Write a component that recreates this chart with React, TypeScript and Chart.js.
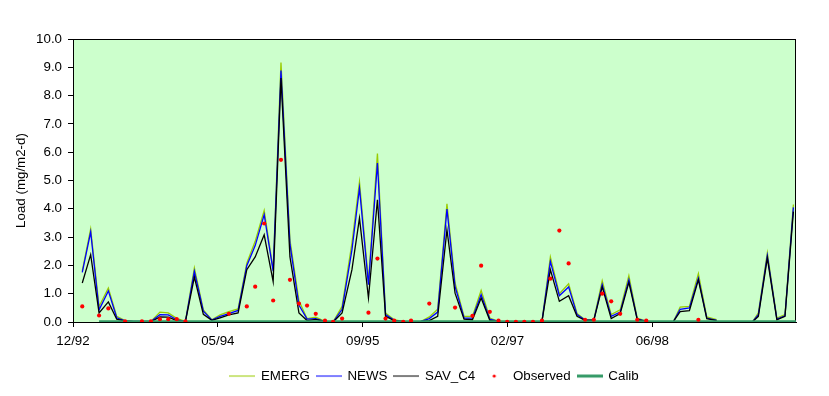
import React, { useEffect, useRef } from 'react';
import { Chart, registerables } from 'chart.js';

Chart.register(...registerables);

// ---- data ----
const BASE_DATE = '1992-12-31';
const AXIS_END_DATE = '1999-11-01';
const tickStepDays = 500;
const tickLabels = ['12/92', '05/94', '09/95', '02/97', '06/98'];

const sampleDates = [
  '1993-02-01', '1993-03-02', '1993-03-31', '1993-05-02', '1993-05-31', '1993-06-29', '1993-07-28', '1993-08-26', '1993-09-26', '1993-10-27',
  '1993-11-25', '1993-12-24', '1994-01-23', '1994-02-23', '1994-03-26', '1994-04-24', '1994-05-23', '1994-06-22', '1994-07-24', '1994-08-23',
  '1994-09-21', '1994-10-22', '1994-11-22', '1994-12-19', '1995-01-19', '1995-02-19', '1995-03-19', '1995-04-18', '1995-05-20', '1995-06-17',
  '1995-07-18', '1995-08-21', '1995-09-16', '1995-10-17', '1995-11-17', '1995-12-15', '1996-01-14', '1996-02-14', '1996-03-12', '1996-04-13',
  '1996-05-14', '1996-06-12', '1996-07-14', '1996-08-11', '1996-09-11', '1996-10-10', '1996-11-09', '1996-12-09', '1997-01-08', '1997-02-07',
  '1997-03-09', '1997-04-07', '1997-05-07', '1997-06-07', '1997-07-06', '1997-08-06', '1997-09-07', '1997-10-06', '1997-11-03', '1997-12-03',
  '1998-01-01', '1998-02-01', '1998-03-04', '1998-04-03', '1998-05-02', '1998-06-02', '1998-07-03', '1998-08-03', '1998-09-04', '1998-09-27',
  '1998-10-29', '1998-11-29', '1998-12-28', '1999-01-31', '1999-02-28', '1999-03-30', '1999-04-30', '1999-06-05', '1999-06-24', '1999-07-25',
  '1999-08-27', '1999-09-24', '1999-10-23', '1999-11-01',
];

const emerg = [
  1.81, 3.29, 0.55, 1.20, 0.20, 0.05, 0.02, 0.02, 0.02, 0.35,
  0.32, 0.13, 0.02, 1.91, 0.43, 0.08, 0.25, 0.37, 0.46, 2.08,
  2.85, 3.94, 1.85, 9.17, 2.90, 0.75, 0.12, 0.17, 0.02, 0.01,
  0.55, 2.79, 4.95, 1.44, 5.95, 0.32, 0.08, 0.01, 0.01, 0.01,
  0.18, 0.45, 4.18, 1.38, 0.20, 0.20, 1.12, 0.14, 0.02, 0.01,
  0.01, 0.01, 0.01, 0.02, 2.30, 1.00, 1.35, 0.30, 0.08, 0.08,
  1.46, 0.26, 0.43, 1.64, 0.14, 0.03, null, null, 0.02, 0.53,
  0.55, 1.71, 0.18, 0.08, null, null, null, 0.02, 0.32, 2.44,
  0.14, 0.26, 4.15, null,
];

const news = [
  1.75, 3.18, 0.43, 1.10, 0.15, 0.04, 0.02, 0.02, 0.02, 0.26,
  0.25, 0.08, 0.01, 1.79, 0.38, 0.07, 0.20, 0.30, 0.41, 1.99,
  2.70, 3.79, 1.80, 8.89, 2.75, 0.60, 0.10, 0.12, 0.01, 0.00,
  0.45, 2.55, 4.73, 1.32, 5.62, 0.26, 0.06, 0.01, 0.01, 0.01,
  0.12, 0.35, 3.99, 1.26, 0.14, 0.14, 0.97, 0.10, 0.02, 0.01,
  0.01, 0.01, 0.01, 0.02, 2.14, 0.93, 1.24, 0.26, 0.07, 0.07,
  1.32, 0.20, 0.35, 1.49, 0.10, 0.03, null, null, 0.02, 0.45,
  0.50, 1.55, 0.14, 0.06, null, null, null, 0.02, 0.26, 2.35,
  0.10, 0.22, 4.05, null,
];

const savC4 = [
  1.38, 2.38, 0.32, 0.71, 0.10, 0.03, 0.01, 0.01, 0.01, 0.18,
  0.17, 0.05, 0.01, 1.59, 0.27, 0.06, 0.15, 0.25, 0.32, 1.85,
  2.30, 3.08, 1.43, 8.62, 2.30, 0.32, 0.05, 0.09, 0.01, 0.00,
  0.32, 1.85, 3.67, 0.85, 4.32, 0.20, 0.05, 0.01, 0.01, 0.01,
  0.05, 0.20, 3.26, 1.02, 0.10, 0.08, 0.85, 0.06, 0.02, 0.01,
  0.01, 0.01, 0.01, 0.02, 1.85, 0.73, 0.93, 0.20, 0.06, 0.06,
  1.24, 0.12, 0.30, 1.40, 0.08, 0.02, null, null, 0.02, 0.37,
  0.40, 1.49, 0.12, 0.05, null, null, null, 0.02, 0.20, 2.26,
  0.08, 0.20, 3.90, null,
];

const observed = [
  0.55, null, 0.23, 0.48, null, 0.02, null, 0.02, 0.02, 0.10,
  0.10, 0.10, 0.02, null, null, null, null, 0.29, null, 0.55,
  1.25, 3.48, 0.76, 5.73, 1.49, 0.65, 0.58, 0.29, 0.05, 0.01,
  0.12, null, null, 0.33, 2.24, 0.12, 0.05, 0.01, 0.05, null,
  0.65, null, null, 0.51, null, 0.22, 1.99, 0.36, 0.05, 0.01,
  0.01, 0.01, 0.01, 0.05, 1.53, 3.23, 2.07, null, 0.08, 0.08,
  1.00, 0.73, 0.29, null, 0.08, 0.05, null, null, null, null,
  null, 0.08, null, null, null, null, null, null, null, null,
  null, null, null, null,
];

const calib = [
  null, null, 0, 0, 0, 0, 0, 0, 0, 0,
  0, 0, 0, 0, 0, 0, 0, 0, 0, 0,
  0, 0, 0, 0, 0, 0, 0, 0, 0, 0,
  0, 0, 0, 0, 0, 0, 0, 0, 0, 0,
  0, 0, 0, 0, 0, 0, 0, 0, 0, 0,
  0, 0, 0, 0, 0, 0, 0, 0, 0, 0,
  0, 0, 0, 0, 0, 0, 0, 0, 0, 0,
  0, 0, 0, 0, 0, 0, 0, 0, 0, 0,
  0, 0, 0, 0,
];

const seriesNames = ['EMERG', 'NEWS', 'SAV_C4', 'Observed', 'Calib'];
const seriesColors = ['#99CC00', '#0000FF', '#000000', '#FF0000', '#339966'];

// ---- helpers ----
const dayMs = 86400000;
const toUTC = (s: string) => {
  const [y, m, d] = s.split('-').map(Number);
  return Date.UTC(y, m - 1, d);
};
const dayOf = (s: string) => Math.round((toUTC(s) - toUTC(BASE_DATE)) / dayMs);
const pts = (vals: (number | null)[]) => sampleDates.map((d, i) => ({ x: dayOf(d), y: vals[i] }));

function lineSymbol(color: string, thick: number): HTMLCanvasElement {
  const c = document.createElement('canvas');
  c.width = 26;
  c.height = 6;
  const g = c.getContext('2d')!;
  g.fillStyle = color;
  g.fillRect(0, 3 - thick / 2, 26, thick);
  return c;
}
function dotSymbol(color: string): HTMLCanvasElement {
  const c = document.createElement('canvas');
  c.width = 6;
  c.height = 6;
  const g = c.getContext('2d')!;
  g.fillStyle = color;
  g.beginPath();
  g.arc(3, 3, 1.6, 0, Math.PI * 2);
  g.fill();
  return c;
}

const FONT = 'Arial, "Liberation Sans", sans-serif';

export default function App() {
  const ref = useRef<HTMLCanvasElement | null>(null);

  useEffect(() => {
    if (!ref.current) return;
    Chart.defaults.font.family = FONT;
    Chart.defaults.font.size = 13.33;
    Chart.defaults.color = '#000000';

    const symbols = [
      lineSymbol(seriesColors[0], 1),
      lineSymbol(seriesColors[1], 1),
      lineSymbol(seriesColors[2], 1),
      dotSymbol(seriesColors[3]),
      lineSymbol(seriesColors[4], 3),
    ];

    const plotFrame = {
      id: 'plotFrame',
      beforeDraw(chart: any) {
        const { ctx, chartArea: a } = chart;
        ctx.save();
        ctx.fillStyle = '#CCFFCC';
        ctx.fillRect(a.left, a.top, a.right - a.left, a.bottom - a.top);
        ctx.restore();
      },
      beforeDatasetsDraw(chart: any) {
        const { ctx, chartArea: a } = chart;
        ctx.save();
        ctx.strokeStyle = '#000000';
        ctx.lineWidth = 1;
        ctx.strokeRect(Math.round(a.left) + 0.5, Math.round(a.top) + 0.5, Math.round(a.right - a.left) - 1, Math.round(a.bottom - a.top));
        ctx.restore();
      },
    };

    const lineDs = (i: number, vals: (number | null)[], order: number, width = 1.3) => ({
      label: seriesNames[i],
      data: pts(vals),
      borderColor: seriesColors[i],
      backgroundColor: seriesColors[i],
      borderWidth: width,
      pointRadius: 0,
      pointHoverRadius: 0,
      tension: 0,
      spanGaps: false,
      fill: false,
      order,
    });

    const chart = new Chart(ref.current, {
      type: 'line',
      data: {
        datasets: [
          lineDs(0, emerg, 5),
          lineDs(1, news, 4),
          lineDs(2, savC4, 3),
          {
            label: seriesNames[3],
            data: pts(observed),
            showLine: false,
            borderColor: seriesColors[3],
            backgroundColor: seriesColors[3],
            pointBackgroundColor: seriesColors[3],
            pointBorderWidth: 0,
            pointRadius: 2.1,
            pointHoverRadius: 2.1,
            order: 1,
          } as any,
          { ...lineDs(4, calib, 2, 3.5), borderCapStyle: 'butt' } as any,
        ],
      },
      options: {
        responsive: false,
        animation: false,
        events: [],
        layout: { padding: { left: 0, top: 39, right: 33, bottom: 3.33 } },
        scales: {
          x: {
            type: 'linear',
            min: 0,
            max: dayOf(AXIS_END_DATE),
            afterFit: (s: any) => { s.height = 40.33; },
            afterBuildTicks: (s: any) => {
              s.ticks = tickLabels.map((_, i) => ({ value: i * tickStepDays }));
            },
            border: { display: true, color: '#000000', width: 1 },
            grid: { display: true, drawOnChartArea: false, drawTicks: true, tickLength: 5, color: '#000000' },
            ticks: {
              autoSkip: false,
              maxRotation: 0,
              padding: 6,
              color: '#000000',
              callback: (v: any) => {
                const idx = Math.round(Number(v) / tickStepDays);
                const lbl = tickLabels[idx];
                return lbl === undefined ? null : lbl;
              },
            },
          },
          y: {
            min: 0,
            max: 10,
            afterFit: (s: any) => { s.width = 73; },
            border: { display: true, color: '#000000', width: 1 },
            grid: { display: true, drawOnChartArea: false, drawTicks: true, tickLength: 5, color: '#000000' },
            ticks: {
              stepSize: 1,
              padding: 6,
              color: '#000000',
              callback: (v: any) => Number(v).toFixed(1),
            },
            title: {
              display: true,
              text: 'Load (mg/m2-d)',
              color: '#000000',
              font: { size: 13.33, family: FONT },
              padding: { top: 13, bottom: 0 },
            },
          },
        },
        plugins: {
          tooltip: { enabled: false },
          legend: {
            position: 'bottom',
            fullSize: false,
            labels: {
              usePointStyle: true,
              pointStyleWidth: 24,
              boxWidth: 24,
              padding: 7,
              color: '#000000',
              font: { size: 13.33, family: FONT },
              sort: (a: any, b: any) => a.datasetIndex - b.datasetIndex,
              generateLabels: (ch: any) => {
                const items = (Chart.defaults.plugins.legend.labels as any).generateLabels(ch);
                items.forEach((it: any) => {
                  it.pointStyle = symbols[it.datasetIndex];
                });
                return items;
              },
            },
          },
        },
      } as any,
      plugins: [plotFrame],
    });

    return () => chart.destroy();
  }, []);

  return (
    <div style={{ position: 'absolute', left: 0, top: 0, width: 829, height: 396, background: '#ffffff' }}>
      <canvas ref={ref} width={829} height={396} style={{ width: 829, height: 396, display: 'block' }} />
    </div>
  );
}
